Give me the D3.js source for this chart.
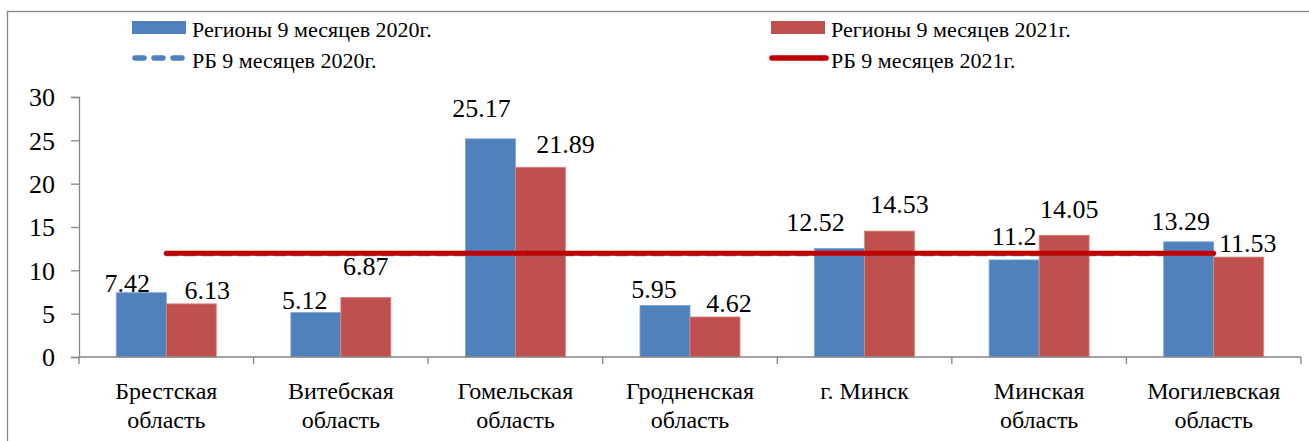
<!DOCTYPE html>
<html>
<head>
<meta charset="utf-8">
<script src="https://cdn.jsdelivr.net/npm/d3@7"></script>
<style>
  body { margin: 0; background: #fff; }
  svg text { font-family: "Liberation Serif", "Times New Roman", Tinos, "DejaVu Serif", "Noto Serif", serif !important; fill: #000; }
</style>
</head>
<body>
<div id="chart"></div>
<script>
// data
var categories = ["Брестская\nобласть", "Витебская\nобласть", "Гомельская\nобласть",
  "Гродненская\nобласть", "г. Минск", "Минская\nобласть", "Могилевская\nобласть"];
var series = ["Регионы 9 месяцев 2020г.", "Регионы 9 месяцев 2021г."];
var values2020 = [7.42, 5.12, 25.17, 5.95, 12.52, 11.2, 13.29];
var values2021 = [6.13, 6.87, 21.89, 4.62, 14.53, 14.05, 11.53];
var rbSeries = ["РБ 9 месяцев 2020г.", "РБ 9 месяцев 2021г."];
var rb2020 = 11.8;
var rb2021 = 11.96;
var yTicks = [0, 5, 10, 15, 20, 25, 30];

var W = 1309, H = 441;
var margin = {top: 97, right: 8, bottom: 84, left: 79},
  width = W - margin.left - margin.right,
  height = H - margin.top - margin.bottom;

var blue = "#4F81BD", red = "#C0504D", darkRed = "#C00000", axisGrey = "#868686";
var serif = "'Liberation Serif', 'Times New Roman', Tinos, 'DejaVu Serif', serif";

var svg = d3.select("#chart").append("svg")
  .attr("width", W)
  .attr("height", H)
  .attr("font-family", serif);

// outer frame (runs off the right/bottom edges)
svg.append("rect")
  .attr("x", 7.5).attr("y", 11.5)
  .attr("width", W + 20).attr("height", H + 20)
  .attr("fill", "none")
  .attr("stroke", axisGrey)
  .attr("stroke-width", 1.3);

var g = svg.append("g")
  .attr("transform", "translate(" + margin.left + "," + margin.top + ")");

var x0 = d3.scaleBand().domain(d3.range(categories.length)).range([0, width]).padding(0);
var x1 = d3.scaleBand().domain([0, 1]).range([0, x0.bandwidth()]).paddingInner(0).paddingOuter(0.746);
var y = d3.scaleLinear().domain([0, 30]).range([height, 0]);

// y axis
var yAxis = g.append("g")
  .call(d3.axisLeft(y).tickValues(yTicks).tickSize(8).tickPadding(16).tickFormat(d3.format("d")))
  .attr("font-family", serif);
yAxis.select(".domain").attr("stroke", axisGrey).attr("stroke-width", 1.3);
yAxis.selectAll(".tick line").attr("stroke", axisGrey).attr("stroke-width", 1.3);
yAxis.selectAll(".tick text")
  .attr("font-size", 26)
  .attr("fill", "#000")
  .attr("dy", "0.34em");

// bars
var rows = categories.map(function(c, i) { return {i: i, v: [values2020[i], values2021[i]]}; });
var grp = g.selectAll("g.cat").data(rows).enter().append("g")
  .attr("class", "cat")
  .attr("transform", function(d) { return "translate(" + x0(d.i) + ",0)"; });

grp.selectAll("rect").data(function(d) { return d.v.map(function(v, s) { return {s: s, v: v, i: d.i}; }); })
  .enter().append("rect")
  .attr("x", function(d) { return x1(d.s); })
  .attr("y", function(d) { return y(d.v); })
  .attr("width", x1.bandwidth())
  .attr("height", function(d) { return height - y(d.v); })
  .attr("fill", function(d) { return d.s === 0 ? blue : red; })
  .attr("stroke", function(d) { return d.s === 0 ? "#7DA2D2" : "#D88683"; })
  .attr("stroke-width", 0.8);

// x axis
var xAxisG = g.append("g").attr("transform", "translate(0," + height + ")");
xAxisG.append("line")
  .attr("x1", 0).attr("x2", width)
  .attr("stroke", axisGrey).attr("stroke-width", 1.5);
xAxisG.selectAll("line.tk").data(d3.range(categories.length + 1)).enter().append("line")
  .attr("class", "tk")
  .attr("x1", function(d) { return d * x0.step(); })
  .attr("x2", function(d) { return d * x0.step(); })
  .attr("y1", 0).attr("y2", 7)
  .attr("stroke", axisGrey).attr("stroke-width", 1.3);

// category labels
xAxisG.selectAll("text.cat").data(categories).enter().append("text")
  .attr("class", "cat")
  .attr("text-anchor", "middle")
  .attr("font-size", 24)
  .attr("transform", function(d, i) { return "translate(" + (x0(i) + x0.bandwidth() / 2) + ",42)"; })
  .selectAll("tspan").data(function(d) { return d.split("\n"); }).enter().append("tspan")
  .attr("x", 0)
  .attr("y", function(d, k) { return k * 29; })
  .text(function(d) { return d; });

// RB lines
var xc = function(i) { return x0(i) + x0.bandwidth() / 2; };
var lineGen = d3.line().x(function(d) { return xc(d.i); }).y(function(d) { return y(d.v); });
g.append("path")
  .datum(categories.map(function(c, i) { return {i: i, v: rb2020}; }))
  .attr("d", lineGen)
  .attr("fill", "none")
  .attr("stroke", blue)
  .attr("stroke-width", 3)
  .attr("stroke-dasharray", "11,7")
  .attr("stroke-linecap", "round");
g.append("path")
  .datum(categories.map(function(c, i) { return {i: i, v: rb2021}; }))
  .attr("d", lineGen)
  .attr("fill", "none")
  .attr("stroke", darkRed)
  .attr("stroke-width", 5)
  .attr("stroke-linecap", "round");

// data labels (hand-placed in the original, nudged here)
var nudge = [
  [[-14, -1], [16, -5]],
  [[-11, -4], [0, -22]],
  [[-9, -22], [25, -14]],
  [[-11, -7], [14, -5]],
  [[-24, -17], [10, -18]],
  [[0, -15], [5, -17]],
  [[-8, -12], [9, -5]]
];
grp.selectAll("text.val").data(function(d) { return d.v.map(function(v, s) { return {s: s, v: v, i: d.i}; }); })
  .enter().append("text")
  .attr("class", "val")
  .attr("text-anchor", "middle")
  .attr("font-size", 26)
  .attr("x", function(d) { return x1(d.s) + x1.bandwidth() / 2 + nudge[d.i][d.s][0]; })
  .attr("y", function(d) { return y(d.v) + nudge[d.i][d.s][1]; })
  .text(function(d) { return d.v; });

// legend
var legend = svg.append("g");
var legX = [132, 771];
legend.selectAll("rect.sw").data(series).enter().append("rect")
  .attr("x", function(d, i) { return legX[i]; })
  .attr("y", 21)
  .attr("width", 54).attr("height", 13)
  .attr("fill", function(d, i) { return i === 0 ? blue : red; });
legend.selectAll("text.s").data(series).enter().append("text")
  .attr("x", function(d, i) { return legX[i] + 60; })
  .attr("y", 37)
  .attr("font-size", 22)
  .text(function(d) { return d; });

legend.append("line")
  .attr("x1", legX[0] + 3).attr("x2", legX[0] + 52)
  .attr("y1", 58).attr("y2", 58)
  .attr("stroke", blue).attr("stroke-width", 5.5)
  .attr("stroke-linecap", "round")
  .attr("stroke-dasharray", "9,10");
legend.append("line")
  .attr("x1", legX[1] + 1).attr("x2", legX[1] + 55)
  .attr("y1", 58).attr("y2", 58)
  .attr("stroke", darkRed).attr("stroke-width", 5.5)
  .attr("stroke-linecap", "round");
legend.selectAll("text.rb").data(rbSeries).enter().append("text")
  .attr("x", function(d, i) { return legX[i] + 60; })
  .attr("y", 68)
  .attr("font-size", 22)
  .text(function(d) { return d; });
</script>
</body>
</html>
